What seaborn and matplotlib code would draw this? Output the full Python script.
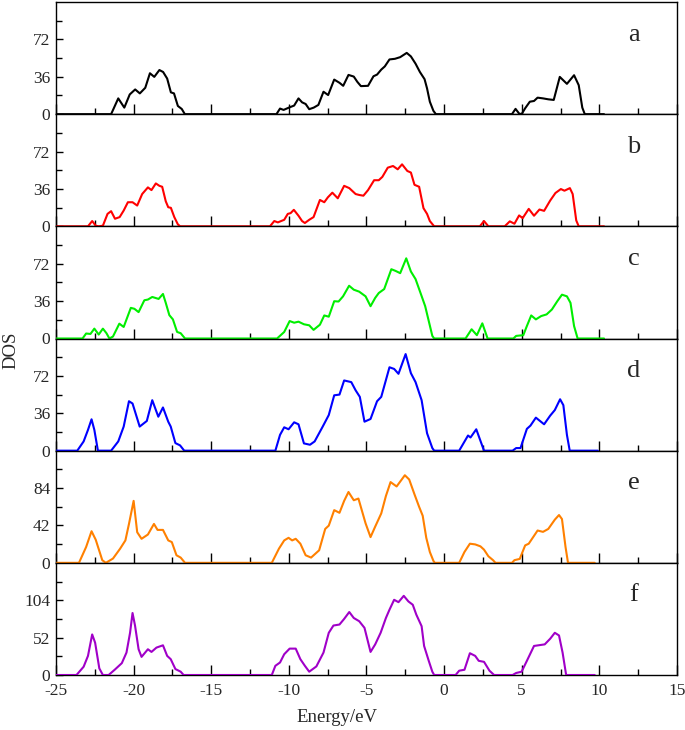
import matplotlib
matplotlib.use("Agg")
import matplotlib.pyplot as plt
import pandas as pd
import seaborn as sns

a_x = [-25, -21.45, -20.99, -20.6, -20.25, -19.9, -19.6, -19.25, -18.95, -18.67, -18.34, -18.1, -17.84,
       -17.6, -17.4, -17.15, -16.9, -16.7, -10.8, -10.57, -10.34, -10.0, -9.66, -9.38, -9.15, -8.92,
       -8.69, -8.4, -8.1, -7.77, -7.47, -7.08, -6.74, -6.5, -6.16, -5.82, -5.59, -5.36, -4.9, -4.55,
       -4.32, -4.05, -3.82, -3.52, -3.17, -2.83, -2.41, -2.14, -1.84, -1.56, -1.26, -1.1, -0.92, -0.69,
       -0.53, 4.37, 4.6, 4.83, 4.99, 5.22, 5.52, 5.79, 6.02, 6.37, 6.71, 7.06, 7.45, 7.91, 8.37, 8.67,
       8.9, 9.06, 10.3]
a_y = [0, 0, 15.2, 6.3, 19, 23.8, 20, 25.4, 39.4, 35.9, 42.5, 40.6, 34.3,
       21, 20, 7.9, 5, 0, 0, 5.4, 4.1, 6.3, 8.3, 15.2, 11.4, 9.8,
       4.8, 6.3, 8.9, 21.6, 18.4, 33.3, 30.2, 27.3, 37.8, 36.2, 31.1, 27, 27.3, 36.5,
       38.1, 42.9, 46, 52.7, 53.3, 54.9, 59, 55.6, 48.6, 40.6, 33.7, 24.8, 12, 3.2,
       0, 0, 5.1, 0.6, 0, 5.7, 12, 12.7, 15.9, 15.2, 14.3, 13.7, 35.9, 29.2, 37.5, 27.9,
       6.3, 0, 0]

b_x = [-25, -22.94, -22.67, -22.44, -22.25, -21.98, -21.68, -21.45, -21.2, -20.9, -20.64, -20.37, -20.07,
       -19.77, -19.45, -19.08, -18.85, -18.57, -18.34, -18.16, -17.93, -17.77, -17.6, -17.38, -17.15, -17.0,
       -11.22, -10.94, -10.71, -10.3, -10.07, -9.89, -9.68, -9.38, -9.15, -8.97, -8.69, -8.41, -8.0,
       -7.72, -7.49, -7.2, -6.85, -6.44, -6.11, -5.7, -5.47, -5.2, -4.9, -4.51, -4.21, -3.98, -3.63,
       -3.29, -2.99, -2.71, -2.37, -2.14, -1.91, -1.61, -1.33, -1.1, -0.92, -0.64, 2.3, 2.57, 2.85,
       3.9, 4.23, 4.53, 4.83, 5.06, 5.45, 5.79, 6.14, 6.44, 6.83, 7.17, 7.52, 7.75, 8.1, 8.28, 8.51,
       8.67, 10.3]
b_y = [0, 0, 5.1, 0.6, 0, 0.6, 12, 14.6, 7.3, 8.9, 15.2, 23.2, 23.2,
       20, 31.1, 37.5, 34.9, 41.3, 39, 38.1, 24.1, 18.4, 17.8, 8.9, 1.9, 0,
       0, 5.1, 3.8, 6.3, 12, 12.7, 15.9, 10.2, 5.1, 3.2, 6.3, 8.9, 25.4,
       23.2, 27.9, 32.4, 27, 39, 36.8, 31.1, 30.2, 29.5, 34.9, 44.4, 44.4, 47.6, 56.5,
       58.1, 54.9, 59.7, 53.3, 51.8, 40, 38.1, 17.5, 12, 5.1, 0, 0, 5.1, 0,
       0, 4.8, 2.5, 10.5, 7.9, 16.8, 10.2, 16.2, 14.9, 24.8, 32.1, 35.9, 34.3, 36.8, 31.1, 5.7,
       0, 0]

c_x = [-25, -23.29, -23.06, -22.78, -22.53, -22.25, -21.98, -21.75, -21.56, -21.33, -20.92, -20.64, -20.18,
       -19.95, -19.68, -19.31, -19.08, -18.8, -18.39, -18.11, -17.93, -17.7, -17.47, -17.2, -16.97, -16.69,
       -10.76, -10.3, -9.95, -9.66, -9.38, -9.03, -8.69, -8.41, -8.0, -7.72, -7.43, -7.08, -6.8, -6.51,
       -6.12, -5.82, -5.47, -5.06, -4.74, -4.44, -4.21, -3.86, -3.4, -3.13, -2.83, -2.44, -2.14, -1.84,
       -1.52, -1.22, -0.99, -0.76, -0.64, 1.38, 1.77, 2.11, 2.46, 2.8, 4.46, 4.64, 5.1, 5.33, 5.61,
       5.91, 6.25, 6.6, 6.94, 7.29, 7.59, 7.91, 8.14, 8.37, 8.6, 10.3]
c_y = [0, 0, 4.8, 4.4, 9.5, 3.8, 9.5, 5.1, 0, 1.9, 14.3, 11.1, 29.5,
       28.6, 25.4, 36.8, 37.5, 40, 38.1, 42.9, 34.3, 22.5, 18.4, 6.3, 5.1, 0,
       0, 6.3, 16.8, 15.2, 16.2, 13.7, 12.7, 8.3, 13.3, 22.2, 21, 35.9, 35.6, 40.6,
       50.8, 47, 45.1, 40.6, 31.1, 39.1, 43.8, 47.6, 66.7, 65.1, 62.9, 77.2, 64.5, 57.2,
       43.8, 31.1, 16.8, 2.5, 0, 0, 8.9, 3.2, 14.6, 0, 0, 2.5, 3.2, 12, 22.2,
       18.4, 21.6, 23.2, 27.9, 35.9, 42.2, 40.6, 34.3, 12, 0, 0]

d_x = [-25, -23.63, -23.22, -22.94, -22.71, -22.53, -22.3, -21.45, -20.99, -20.64, -20.3, -20.07, -19.61,
       -19.15, -18.8, -18.41, -18.11, -17.77, -17.61, -17.31, -17.01, -16.74, -10.87, -10.57, -10.3,
       -10.02, -9.66, -9.38, -9.03, -8.64, -8.34, -7.82, -7.43, -7.08, -6.74, -6.44, -5.98, -5.7, -5.43,
       -5.13, -4.74, -4.32, -4.05, -3.52, -3.22, -2.94, -2.48, -2.14, -1.84, -1.45, -1.1, -0.76, -0.64,
       0.97, 1.54, 1.7, 2.07, 2.57, 4.41, 4.64, 4.92, 5.33, 5.56, 5.91, 6.44, 6.83, 7.13, 7.47, 7.68,
       7.91, 8.09, 9.9]
d_y = [0, 0, 8.9, 20, 30.2, 20, 0, 0, 8.9, 23.2, 47.6, 45.4, 23.2,
       28.6, 48.6, 32.7, 41.6, 27.9, 23.2, 7.3, 5.1, 0, 0, 15.2, 22.5,
       20.6, 27.3, 25.4, 7, 5.7, 8.9, 23.2, 34.3, 53.3, 54, 67.6, 66, 58.1, 51.8,
       27.9, 30.5, 47.6, 51.8, 80.3, 78.7, 74, 93, 74.6, 66, 48.6, 16.8, 2.5, 0,
       0, 14.6, 12.7, 20.6, 0, 0, 2.5, 2.5, 21, 24.1, 31.8, 25.4, 33.7, 39.1, 49.5, 43.8,
       15.2, 0, 0]

e_x = [-25, -23.52, -23.06, -22.71, -22.44, -22.02, -21.79, -21.33, -20.87, -20.53, -20.3, -20.0, -19.77,
       -19.49, -19.08, -18.69, -18.46, -18.11, -17.77, -17.54, -17.24, -16.97, -16.69, -11.1, -10.64,
       -10.3, -10.02, -9.79, -9.56, -9.26, -8.92, -8.57, -8.05, -7.66, -7.43, -7.08, -6.74, -6.44, -6.16,
       -5.82, -5.52, -5.06, -4.74, -4.44, -4.05, -3.75, -3.45, -3.06, -2.53, -2.25, -1.91, -1.61, -1.38,
       -1.15, -0.92, -0.69, -0.6, 0.97, 1.31, 1.66, 2.0, 2.34, 2.57, 2.85, 3.15, 3.31, 4.37, 4.53, 4.87,
       5.22, 5.45, 6.02, 6.37, 6.71, 7.13, 7.4, 7.59, 7.82, 7.98, 9.7]
e_y = [0, 0, 17.8, 35.5, 25.9, 3, 0, 4.8, 15.9, 25.2, 43.7, 69.6, 34.4,
       27, 31.8, 43.7, 37, 37, 25.2, 23.3, 8.5, 5.9, 0, 0, 15.9,
       25.2, 28.1, 25.2, 27, 21.5, 8.5, 5.9, 14.1, 38.1, 41.8, 59.2, 56.2, 69.6, 79.6,
       70.3, 72.2, 44.4, 28.9, 40.7, 55.5, 75.1, 90.7, 85.8, 98.4, 93.6, 77, 62.9, 52.9,
       28.1, 12.2, 2.2, 0, 0, 12.2, 21.5, 20.7, 18.5, 14.8, 7.4, 3, 0, 0, 3, 4.4,
       19.6, 21.5, 36.3, 34.8, 38.1, 48.5, 53.7, 49.2, 17.8, 0, 0]

f_x = [-25, -23.68, -23.22, -22.94, -22.67, -22.48, -22.21, -21.98, -21.61, -21.22, -20.76, -20.46, -20.23,
       -20.07, -19.91, -19.68, -19.49, -19.08, -18.85, -18.53, -18.11, -17.84, -17.61, -17.31, -16.97,
       -16.78, -11.1, -10.87, -10.57, -10.3, -9.95, -9.56, -9.26, -8.97, -8.69, -8.23, -7.77, -7.43, -7.13,
       -6.74, -6.44, -6.11, -5.82, -5.47, -5.13, -4.74, -4.44, -4.09, -3.75, -3.52, -3.22, -2.94, -2.6,
       -2.3, -2.02, -1.79, -1.45, -1.29, -0.99, -0.76, -0.64, 0.74, 0.97, 1.31, 1.66, 2.0, 2.23, 2.57,
       2.92, 3.22, 4.41, 4.64, 4.99, 5.33, 5.79, 6.48, 6.83, 7.13, 7.4, 7.63, 7.86, 9.7]
f_y = [0, 0, 11.5, 26.6, 56.4, 44.9, 9.2, 0, 0, 7.3, 16.5, 31.2, 58.7,
       86.2, 68.8, 35.8, 25.2, 35.8, 32.1, 38.1, 41.3, 26.6, 22, 8.3, 4.6,
       0, 0, 12.8, 17.4, 28.9, 36.7, 36.7, 22, 12.8, 4.6, 11.9, 31.2, 58.7, 68.8,
       70.2, 78, 87.6, 79.3, 74.8, 65.6, 32.1, 42.6, 58.7, 79.3, 90.8, 104.6, 101.3, 110.1,
       102.3, 97.7, 83.9, 67.9, 40.4, 19.7, 4.6, 0, 0, 6, 7.3, 30.3, 26.6, 19.7, 18.3,
       6, 0, 0, 2.8, 4.6, 19.7, 40.4, 42.6, 50.4, 58.7, 55, 31.2, 0, 0]

panel_labels = ["a", "b", "c", "d", "e", "f"]
colors = ["black", "#ff0000", "#00ee00", "#0000ff", "#ff8000", "#a000c8"]
y_major = [[0, 36, 72], [0, 36, 72], [0, 36, 72], [0, 36, 72], [0, 42, 84], [0, 52, 104]]
y_minor = [[18, 54, 90], [18, 54, 90], [18, 54, 90], [18, 54, 90], [21, 63, 105], [26, 78, 130]]
y_max = [108, 108, 108, 108, 126, 156]
x_ticks = [-25, -20, -15, -10, -5, 0, 5, 10, 15]
x_minor = [-22.5, -17.5, -12.5, -7.5, -2.5, 2.5, 7.5, 12.5]

series = [(a_x, a_y), (b_x, b_y), (c_x, c_y), (d_x, d_y), (e_x, e_y), (f_x, f_y)]

sns.set_style("ticks")
plt.rcParams['font.family'] = ['Liberation Serif', 'DejaVu Serif']
plt.rcParams['axes.unicode_minus'] = False

fig, axes = plt.subplots(6, 1, figsize=(6.85, 7.3), dpi=100, sharex=True)
fig.subplots_adjust(left=56/685, right=677/685, top=1-2/730, bottom=1-675/730, hspace=0)

for i, ax in enumerate(axes):
    xs, ys = series[i]
    df = pd.DataFrame({"E": xs, "DOS": ys})
    sns.lineplot(data=df, x="E", y="DOS", ax=ax, color=colors[i], lw=1.5,
                 sort=False, estimator=None, zorder=3)
    ax.set_xlim(-25, 15)
    ax.set_ylim(0, y_max[i])
    ax.set_yticks(y_major[i])
    ax.set_yticks(y_minor[i], minor=True)
    ax.set_xticks(x_ticks)
    ax.set_xticks(x_minor, minor=True)
    ax.set_xlabel("")
    ax.set_ylabel("")
    ax.tick_params(axis="both", which="both", direction="in", top=False, right=False,
                   width=1.0, labelsize=12.5, color="black", pad=4)
    ax.tick_params(axis="x", which="major", length=7, pad=6)
    ax.tick_params(axis="x", which="minor", length=4)
    ax.tick_params(axis="y", which="major", length=5)
    ax.tick_params(axis="y", which="minor", length=4)
    for sp in ax.spines.values():
        sp.set_linewidth(1.0)
        sp.set_color("black")
    ax.text(0.93, 0.71, panel_labels[i], transform=ax.transAxes, fontsize=19,
            ha="center", va="center")

axes[-1].set_xlabel("Energy/eV", fontsize=13.5)
axes[-1].xaxis.set_label_coords(0.452, -0.3)
fig.text(11/685, 1-350/730, "DOS", rotation=90, fontsize=13.5, ha="center", va="center")

fig.savefig("out.png", dpi=100)
